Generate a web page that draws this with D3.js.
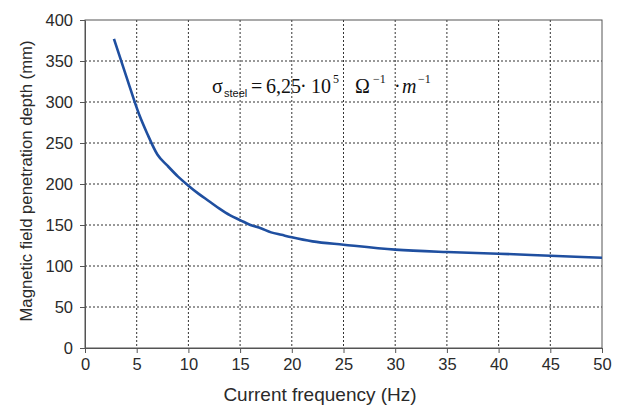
<!DOCTYPE html>
<html><head><meta charset="utf-8">
<script src="https://cdn.jsdelivr.net/npm/d3@7"></script>
<style>body{margin:0;background:#fff}svg{display:block}</style>
</head><body><svg id="c" width="619" height="407"></svg>
<script>
const freq = [2.8, 4, 5.2, 6, 7, 8, 9, 10, 11, 12, 13, 14, 15, 16, 17, 18, 19, 20, 22, 25, 30, 35, 40, 45, 50];
const depth = [377, 331, 286, 262, 236, 222, 209, 198, 188, 179, 170, 162, 156, 150, 146, 141, 138, 135, 130, 126, 120, 117, 115, 112.5, 110];
const xTicks = [0, 5, 10, 15, 20, 25, 30, 35, 40, 45, 50];
const yTicks = [0, 50, 100, 150, 200, 250, 300, 350, 400];

const svg = d3.select("#c");
const m = {l: 85, r: 602, t: 20, b: 348};
const x = d3.scaleLinear().domain([0, 50]).range([m.l, m.r]);
const y = d3.scaleLinear().domain([0, 400]).range([m.b, m.t]);
const font = "Liberation Sans, Arial, sans-serif";
const serif = "Liberation Serif, Times New Roman, serif";

// grid
svg.append("g").selectAll("line").data(xTicks.slice(1, -1)).join("line")
  .attr("x1", d => x(d)).attr("x2", d => x(d)).attr("y1", m.t).attr("y2", m.b)
  .attr("stroke", "#333").attr("stroke-width", 1).attr("stroke-dasharray", "2,2");
svg.append("g").selectAll("line").data(yTicks.slice(1, -1)).join("line")
  .attr("x1", m.l).attr("x2", m.r).attr("y1", d => y(d)).attr("y2", d => y(d))
  .attr("stroke", "#333").attr("stroke-width", 1).attr("stroke-dasharray", "2,2");

// axes
const xa = svg.append("g").attr("transform", `translate(0,${m.b})`)
  .call(d3.axisBottom(x).tickValues(xTicks).tickSize(5).tickPadding(5).tickSizeOuter(0));
const ya = svg.append("g").attr("transform", `translate(${m.l},0)`)
  .call(d3.axisLeft(y).tickValues(yTicks).tickSize(5).tickPadding(7).tickSizeOuter(0));
[xa, ya].forEach(a => {
  a.select(".domain").attr("stroke", "#555");
  a.selectAll(".tick line").attr("stroke", "#555");
  a.selectAll("text").attr("font-family", font).attr("font-size", 16.5).attr("fill", "#2a2a2a");
});
// frame right/top
svg.append("rect").attr("x", m.l).attr("y", m.t).attr("width", m.r - m.l).attr("height", m.b - m.t)
  .attr("fill", "none").attr("stroke", "#555").attr("stroke-width", 1);

// curve
svg.append("path").datum(freq.map((f, i) => [f, depth[i]]))
  .attr("fill", "none").attr("stroke", "#1f4fa0").attr("stroke-width", 2.6)
  .attr("stroke-linejoin", "round")
  .attr("d", d3.line().x(d => x(d[0])).y(d => y(d[1])).curve(d3.curveMonotoneX));

// labels
svg.append("text").attr("x", 320).attr("y", 401).attr("text-anchor", "middle")
  .attr("font-family", font).attr("font-size", 19).attr("fill", "#2a2a2a").text("Current frequency (Hz)");
svg.append("text").attr("transform", `translate(32,181) rotate(-90)`).attr("text-anchor", "middle")
  .attr("font-family", font).attr("font-size", 16.7).attr("fill", "#2a2a2a").text("Magnetic field penetration depth (mm)");

// annotation
const parts = [
  {t: "σ", x: 212, y: 93, s: 20, f: serif},
  {t: "steel", x: 224, y: 97, s: 11, f: font},
  {t: "=", x: 251, y: 93, s: 20, f: serif},
  {t: "6,25", x: 266, y: 93, s: 20, f: serif},
  {t: "·", x: 300, y: 93, s: 20, f: serif},
  {t: "10", x: 311, y: 93, s: 20, f: serif},
  {t: "5", x: 333, y: 83, s: 12, f: serif},
  {t: "Ω", x: 355, y: 93, s: 20, f: serif},
  {t: "−1", x: 373, y: 83, s: 12, f: serif},
  {t: "·", x: 394, y: 93, s: 20, f: serif},
  {t: "m", x: 402, y: 93, s: 20, f: serif, i: true},
  {t: "−1", x: 418, y: 83, s: 12, f: serif}
];
svg.append("g").selectAll("text").data(parts).join("text")
  .attr("x", d => d.x).attr("y", d => d.y).attr("font-size", d => d.s).attr("font-family", d => d.f)
  .attr("font-style", d => d.i ? "italic" : "normal").attr("fill", "#111").text(d => d.t);
</script></body></html>
